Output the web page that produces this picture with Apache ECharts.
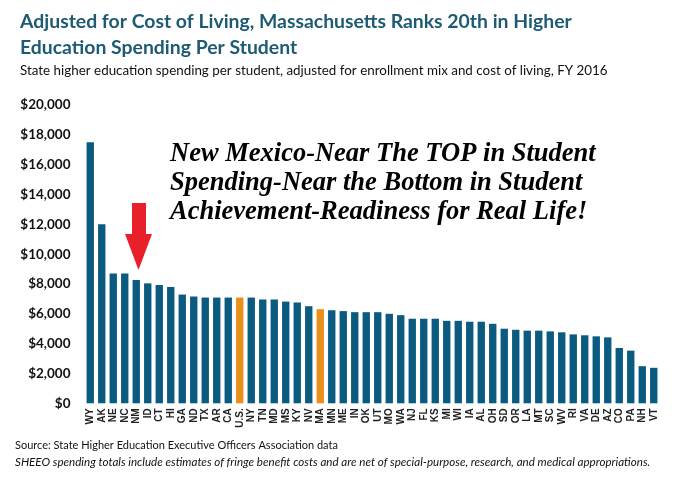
<!DOCTYPE html>
<html>
<head>
<meta charset="utf-8">
<script src="https://cdn.jsdelivr.net/npm/echarts@6/dist/echarts.min.js"></script>
<style>
  html, body { margin: 0; padding: 0; background: #fff; }
  #chart { width: 680px; height: 484px; }
</style>
</head>
<body>
<div id="chart"></div>
<script>
// 各州高等教育生均支出（按生活成本调整，FY 2016）
const states = ['WY','AK','NE','NC','NM','ID','CT','HI','GA','ND','TX','AR','CA','U.S.','NY','TN','MD','MS','KY','NV',
  'MA','MN','ME','IN','OK','UT','MO','WA','NJ','FL','KS','MI','WI','IA','AL','OH','SD','OR','LA','MT',
  'SC','WV','RI','VA','DE','AZ','CO','PA','NH','VT'];
const spending = [17500, 12000, 8700, 8700, 8270, 8040, 7930, 7800, 7290, 7160, 7090, 7090, 7090, 7090, 7090, 6960, 6960, 6820, 6760, 6510,
  6310, 6240, 6180, 6110, 6110, 6110, 6000, 5910, 5670, 5670, 5670, 5530, 5530, 5470, 5470, 5330, 5000, 4930, 4870, 4870,
  4820, 4760, 4620, 4560, 4490, 4420, 3710, 3530, 2490, 2380];
const highlight = ['U.S.', 'MA'];   // 橙色高亮
const yTicks = [0, 2000, 4000, 6000, 8000, 10000, 12000, 14000, 16000, 18000, 20000];

const chart = echarts.init(document.getElementById('chart'));

const option = {
  backgroundColor: '#ffffff',
  animation: false,
  title: [
    {
      text: 'Adjusted for Cost of Living, Massachusetts Ranks 20th in Higher\nEducation Spending Per Student',
      left: 15, top: 3,
      textStyle: { color: '#1d5b73', fontFamily: 'Lato', fontWeight: 'bold', fontSize: 19.4, lineHeight: 26.5 }
    },
    {
      text: 'State higher education spending per student, adjusted for enrollment mix and cost of living, FY 2016',
      left: 15, top: 59,
      textStyle: { color: '#111', fontFamily: 'Lato', fontWeight: 'normal', fontSize: 13.4 }
    }
  ],
  grid: { left: 84.5, right: 20.5, top: 105, bottom: 80.7 },
  xAxis: {
    type: 'category',
    data: states,
    axisLine: { show: false },
    axisTick: { show: false },
    axisLabel: {
      interval: 0, rotate: 90, margin: 5,
      color: '#222', fontFamily: 'Liberation Sans', fontWeight: 'bold', fontSize: 10
    }
  },
  yAxis: {
    type: 'value',
    min: yTicks[0], max: yTicks[yTicks.length - 1], interval: 2000,
    splitLine: { show: false },
    axisLine: { show: false },
    axisTick: { show: false },
    axisLabel: {
      margin: 14,
      color: '#111', fontFamily: 'Lato', fontWeight: 'bold', fontSize: 13.5,
      formatter: v => '$' + v.toLocaleString('en-US')
    }
  },
  series: [{
    type: 'bar',
    barWidth: '64%',
    data: spending.map((v, i) => ({
      value: v,
      itemStyle: { color: highlight.includes(states[i]) ? '#e8901a' : '#0b5a80' }
    }))
  }],
  graphic: [
    {
      // 注释文字
      type: 'text', left: 170, top: 140,
      style: {
        text: 'New Mexico-Near The TOP in Student\nSpending-Near the Bottom in Student\nAchievement-Readiness for Real Life!',
        fill: '#000', font: 'italic bold 26.5px "Liberation Serif"', lineHeight: 29
      }
    },
    {
      // 红色箭头指向 NM
      type: 'polygon',
      shape: { points: [[132, 203], [146, 203], [146, 234], [152, 234], [138.5, 270], [125, 234], [132, 234]] },
      style: { fill: '#e8202a' }
    },
    {
      type: 'text', left: 15, top: 440,
      style: { text: 'Source: State Higher Education Executive Officers Association data', fill: '#111', font: '11px Lato' }
    },
    {
      type: 'text', left: 15, top: 456,
      style: {
        text: 'SHEEO spending totals include estimates of fringe benefit costs and are net of special-purpose, research, and medical appropriations.',
        fill: '#111', font: 'italic 11.6px Lato'
      }
    }
  ]
};

chart.setOption(option);
</script>
</body>
</html>
